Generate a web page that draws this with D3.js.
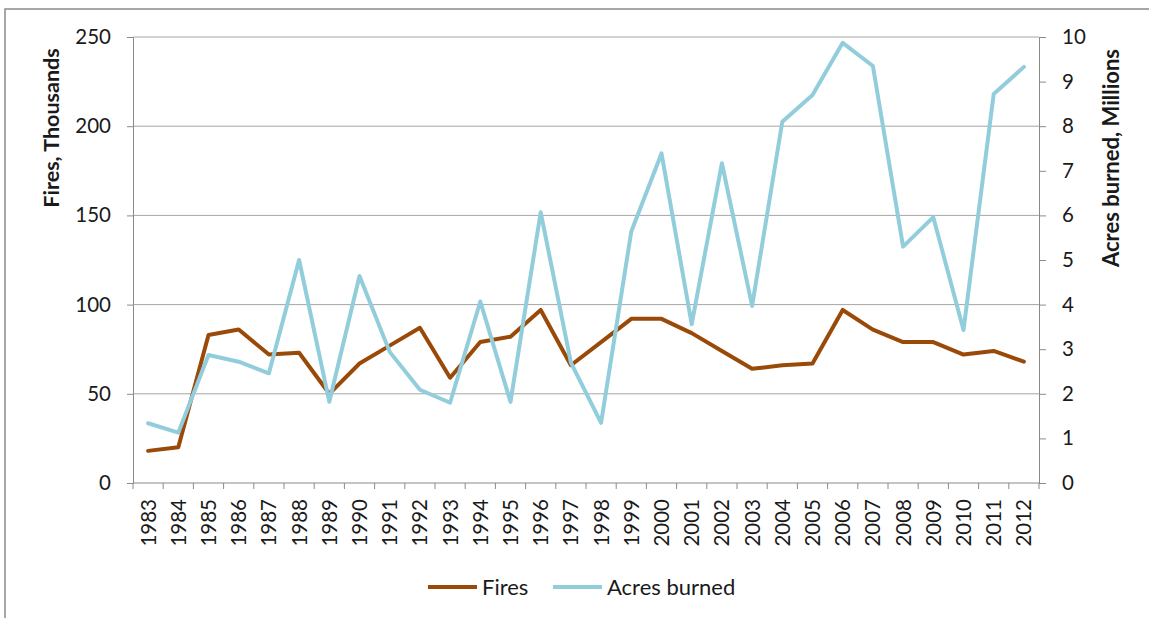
<!DOCTYPE html>
<html><head><meta charset="utf-8">
<script src="https://cdn.jsdelivr.net/npm/d3@7"></script>
<style>
html,body{margin:0;padding:0;background:#fff;}
svg text{font-family:Lato,"Open Sans",sans-serif;fill:#1a1a1a;}
</style></head>
<body><svg id="c" width="1149" height="618"></svg>
<script>
const years = ["1983","1984","1985","1986","1987","1988","1989","1990","1991","1992","1993","1994","1995","1996","1997","1998","1999","2000","2001","2002","2003","2004","2005","2006","2007","2008","2009","2010","2011","2012"];
const fires = [18,20,83,86,72,73,50,67,77,87,59,79,82,97,66,79,92,92,84,74,64,66,67,97,86,79,79,72,74,68];
const acres = [1.34,1.13,2.87,2.72,2.46,5.0,1.82,4.64,2.94,2.09,1.8,4.07,1.82,6.07,2.7,1.35,5.64,7.39,3.56,7.17,3.97,8.1,8.7,9.87,9.35,5.3,5.96,3.43,8.72,9.33];
const leftTicks = [0,50,100,150,200,250];
const rightTicks = [0,1,2,3,4,5,6,7,8,9,10];
const seriesNames = ["Fires","Acres burned"];
const colors = ["#9A4A08","#92CDDC"];

const svg = d3.select("#c");
const L = 133, R = 1039, T = 37, B = 483;
const FS = "20.5px";

svg.append("rect").attr("x",5).attr("y",9).attr("width",1200).attr("height",700)
  .attr("fill","none").attr("stroke","#8a8a8a").attr("stroke-width",1.5);

const x = d3.scaleBand().domain(years).range([L,R]);
const yL = d3.scaleLinear().domain([0,250]).range([B,T]);
const yR = d3.scaleLinear().domain([0,10]).range([B,T]);

// gridlines
svg.append("g").selectAll("line").data(leftTicks.filter(d=>d>0)).join("line")
  .attr("x1",L).attr("x2",R).attr("y1",d=>yL(d)).attr("y2",d=>yL(d))
  .attr("stroke","#a6a6a6").attr("stroke-width",1);

// left axis
const gl = svg.append("g").attr("transform",`translate(${L},0)`)
  .call(d3.axisLeft(yL).tickValues(leftTicks).tickSize(6).tickPadding(16));
gl.selectAll("text").style("font-size",FS);
// right axis
const gr = svg.append("g").attr("transform",`translate(${R},0)`)
  .call(d3.axisRight(yR).tickValues(rightTicks).tickSize(7).tickPadding(16));
gr.selectAll("text").style("font-size",FS);
// x axis
svg.append("line").attr("x1",L).attr("x2",R).attr("y1",B).attr("y2",B).attr("stroke","#8a8a8a");
const bounds = years.map(d=>x(d)).concat([R]);
svg.append("g").selectAll("line").data(bounds).join("line")
  .attr("x1",d=>d).attr("x2",d=>d).attr("y1",B).attr("y2",B+6).attr("stroke","#8a8a8a");
svg.append("g").selectAll("text").data(years).join("text")
  .attr("transform",d=>`translate(${x(d)+x.bandwidth()/2+7.5},${B+16}) rotate(-90)`)
  .attr("text-anchor","end").style("font-size",FS).text(d=>d);

[gl,gr].forEach(g=>{
  g.select(".domain").attr("stroke","#8a8a8a");
  g.selectAll(".tick line").attr("stroke","#8a8a8a");
});

// titles
svg.append("text").attr("transform",`translate(59,128) rotate(-90)`)
  .attr("text-anchor","middle").style("font-size","21.5px").style("font-weight","bold").text("Fires, Thousands");
svg.append("text").attr("transform",`translate(1119,158) rotate(-90)`)
  .attr("text-anchor","middle").style("font-size","22px").style("font-weight","bold").text("Acres burned, Millions");

// lines
const cx = d=>x(d)+x.bandwidth()/2;
svg.append("path").datum(fires.map((v,i)=>[years[i],v]))
  .attr("fill","none").attr("stroke",colors[0]).attr("stroke-width",4).attr("stroke-linejoin","round").attr("stroke-linecap","round")
  .attr("d",d3.line().x(d=>cx(d[0])).y(d=>yL(d[1])));
svg.append("path").datum(acres.map((v,i)=>[years[i],v]))
  .attr("fill","none").attr("stroke",colors[1]).attr("stroke-width",4).attr("stroke-linejoin","round").attr("stroke-linecap","round")
  .attr("d",d3.line().x(d=>cx(d[0])).y(d=>yR(d[1])));

// legend
const lg = svg.append("g");
const legX = [428,553];
seriesNames.forEach((n,i)=>{
  lg.append("line").attr("x1",legX[i]).attr("x2",legX[i]+49).attr("y1",587).attr("y2",587)
    .attr("stroke",colors[i]).attr("stroke-width",4);
  lg.append("text").attr("x",legX[i]+54).attr("y",587).attr("dy","0.35em").style("font-size","22px").text(n);
});
</script></body></html>
